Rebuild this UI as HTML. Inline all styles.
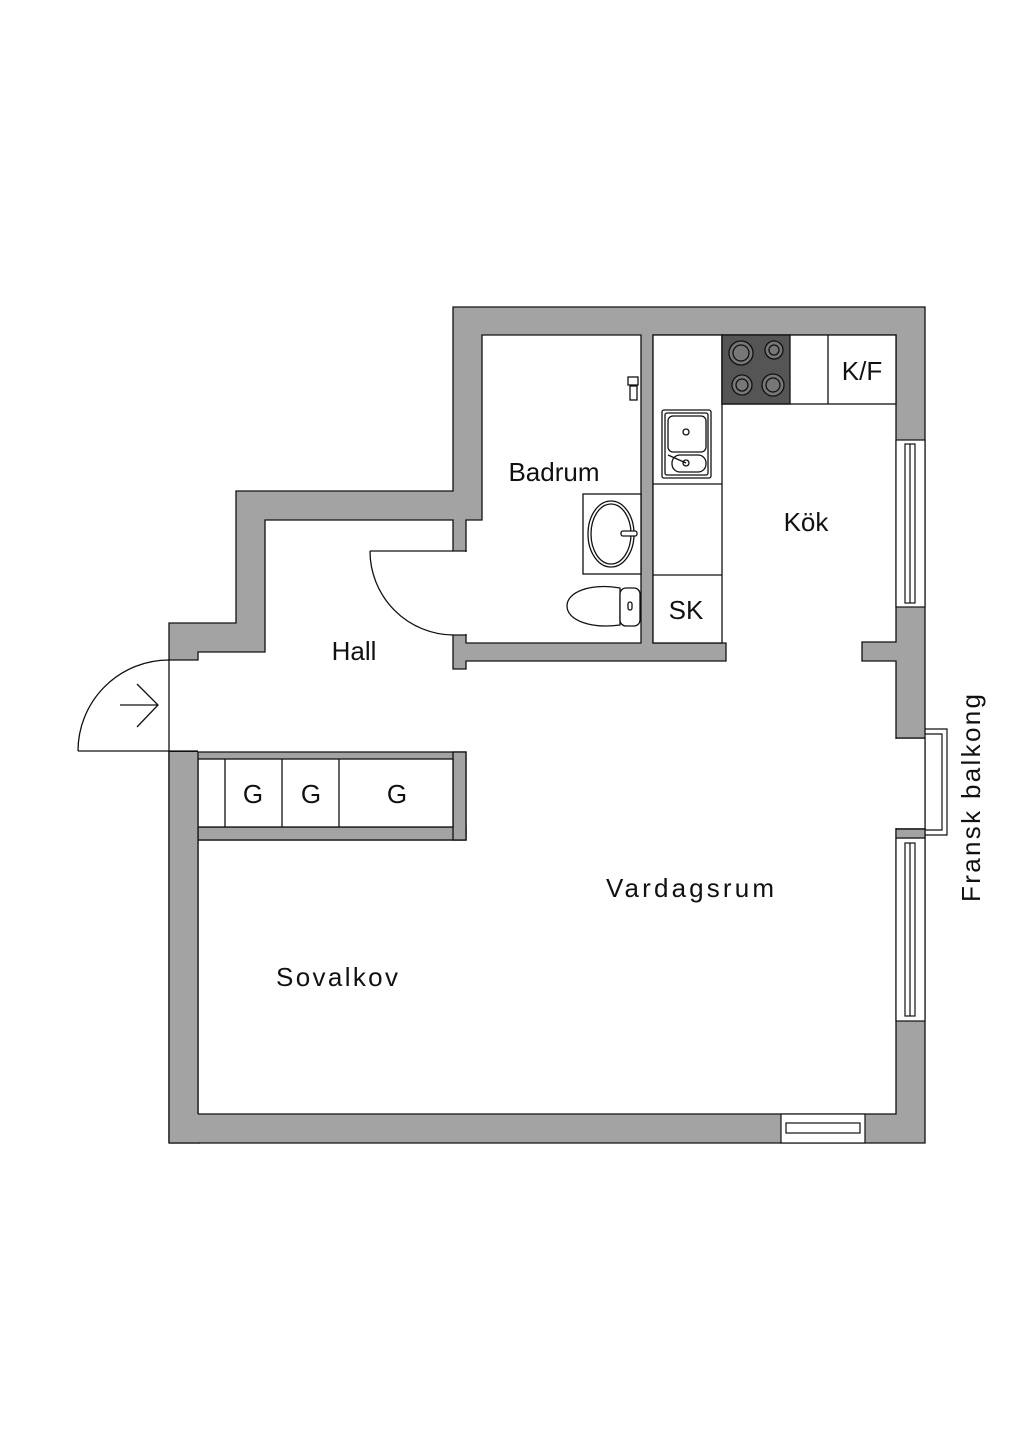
<!DOCTYPE html>
<html><head><meta charset="utf-8"><style>
html,body{margin:0;padding:0;background:#fff;}
svg{display:block;}
text{font-family:"Liberation Sans",sans-serif;fill:#111;}
</style></head><body>
<svg width="1024" height="1448" viewBox="0 0 1024 1448" xmlns="http://www.w3.org/2000/svg">
<rect width="1024" height="1448" fill="#fff"/>
<g stroke="#111" stroke-width="1.3">
<polygon points="453,307 925,307 925,1143 169,1143 169,623 236,623 236,491 453,491" fill="#a3a3a3"/>
<polygon points="482,335 641,335 641,643 466,643 466,520 482,520" fill="#fff"/>
<polygon points="169,660 198,660 198,652 265,652 265,520 453,520 453,551 466,551 466,635 453,635 453,669 466,669 466,661 726,661 726,643 653,643 653,335 896,335 896,642 862,642 862,661 896,661 896,1114 198,1114 198,840 466,840 466,752 169,752" fill="#fff"/>
</g>
<rect x="454" y="552" width="13" height="82" fill="#fff"/>
<rect x="467" y="521" width="14" height="121" fill="#fff"/>
<rect x="168" y="661" width="2" height="90" fill="#fff"/>
<g stroke="#111" stroke-width="1.3" fill="none">
<line x1="169" y1="660" x2="169" y2="751"/>
<line x1="78" y1="751" x2="169" y2="751"/>
<path d="M78,751 A91,91 0 0 1 169,660"/>
<line x1="120" y1="705" x2="158" y2="705"/>
<polyline points="137,684 158,705 137,727"/>
<line x1="370" y1="551" x2="453" y2="551"/>
<path d="M370,551 A84,84 0 0 0 453,635"/>
</g>
<g stroke="#111" stroke-width="1.3">
<rect x="198" y="827" width="268" height="13" fill="#a3a3a3"/>
<rect x="453" y="752" width="13" height="88" fill="#a3a3a3"/>
<rect x="198" y="759" width="255" height="68" fill="#fff"/>
<line x1="225" y1="759" x2="225" y2="827"/>
<line x1="282" y1="759" x2="282" y2="827"/>
<line x1="339" y1="759" x2="339" y2="827"/>
<rect x="169" y="752" width="29" height="391" fill="#a3a3a3" stroke="none"/>
<line x1="198" y1="752" x2="198" y2="1114"/>
<line x1="169" y1="751" x2="198" y2="751"/>
<line x1="169" y1="752" x2="169" y2="1143"/>
<line x1="169" y1="1143" x2="200" y2="1143"/>
</g>
<g stroke="#111" stroke-width="1.3" fill="#fff">
<rect x="653" y="335" width="69" height="308"/>
<line x1="653" y1="484" x2="722" y2="484"/>
<line x1="653" y1="575" x2="722" y2="575"/>
<rect x="722" y="335" width="174" height="69"/>
<rect x="722" y="335" width="68" height="69" fill="#555"/>
<line x1="828" y1="335" x2="828" y2="404"/>
<circle cx="741" cy="353" r="12" fill="#777"/><circle cx="741" cy="353" r="8" fill="#777"/>
<circle cx="774" cy="350" r="9" fill="#777"/><circle cx="774" cy="350" r="5" fill="#777"/>
<circle cx="742" cy="385" r="10" fill="#777"/><circle cx="742" cy="385" r="6" fill="#777"/>
<circle cx="773" cy="385" r="11" fill="#777"/><circle cx="773" cy="385" r="7" fill="#777"/>
<rect x="662" y="410" width="49" height="68" rx="2"/>
<rect x="665" y="413" width="43" height="62" rx="2"/>
<rect x="668" y="416" width="38" height="36" rx="5"/>
<rect x="672" y="455" width="34" height="17" rx="8"/>
<circle cx="686" cy="432" r="3"/>
<circle cx="686" cy="463" r="3"/>
<line x1="668" y1="455" x2="686" y2="463"/>
<rect x="583" y="494" width="58" height="80"/>
<ellipse cx="611" cy="534" rx="23" ry="33"/>
<ellipse cx="611" cy="534" rx="20" ry="30"/>
<rect x="621" y="531" width="16" height="5" rx="2"/>
<path d="M620,588 C590,583 567,592 567,606 C567,620 590,629 620,625 Z"/>
<rect x="620" y="588" width="20" height="38" rx="6"/>
<rect x="628" y="602" width="4" height="8" rx="2"/>
<rect x="628" y="377" width="10" height="8"/>
<rect x="630" y="386" width="7" height="14"/>
</g>
<g stroke="#111" stroke-width="1.2" fill="#fff">
<rect x="896" y="440" width="29" height="167"/>
<rect x="905" y="444" width="10" height="159"/>
<line x1="910" y1="444" x2="910" y2="603"/>
<rect x="896" y="838" width="29" height="183"/>
<rect x="905" y="843" width="10" height="173"/>
<line x1="910" y1="843" x2="910" y2="1016"/>
<rect x="896" y="829" width="29" height="9" fill="#a3a3a3"/>
<rect x="781" y="1114" width="84" height="29"/>
<rect x="786" y="1123" width="74" height="10"/>
<polyline points="925,729 947,729 947,835 925,835" fill="none"/>
<polyline points="925,734 942,734 942,830 925,830" fill="none"/>
</g>
<rect x="895" y="739" width="30" height="89" fill="#fff"/>
<g stroke="#111" stroke-width="1.2">
<line x1="896" y1="738" x2="925" y2="738"/>
<line x1="925" y1="738" x2="925" y2="829"/>
<line x1="896" y1="829" x2="925" y2="829"/>
</g>
<g font-size="26">
<text x="554" y="481" text-anchor="middle">Badrum</text>
<text x="806" y="531" text-anchor="middle">Kök</text>
<text x="354" y="660" text-anchor="middle">Hall</text>
<text x="686" y="619" text-anchor="middle">SK</text>
<text x="862" y="380" text-anchor="middle">K/F</text>
<text x="253" y="803" text-anchor="middle">G</text>
<text x="311" y="803" text-anchor="middle">G</text>
<text x="397" y="803" text-anchor="middle">G</text>
<text x="690" y="897" text-anchor="middle" textLength="168">Vardagsrum</text>
<text x="337" y="986" text-anchor="middle" textLength="122">Sovalkov</text>
<text x="0" y="0" text-anchor="middle" textLength="208" transform="translate(980,798) rotate(-90)">Fransk balkong</text>
</g>
</svg>
</body></html>
